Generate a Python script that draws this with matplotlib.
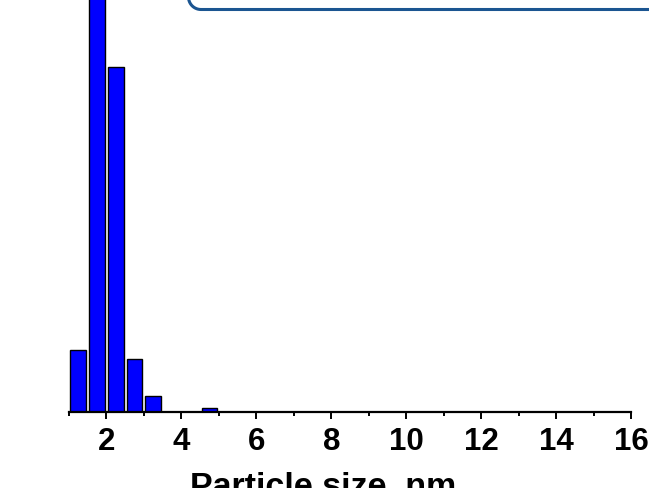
import matplotlib
matplotlib.use("Agg")
import matplotlib.pyplot as plt
from matplotlib.patches import PathPatch
from matplotlib.path import Path
from matplotlib.transforms import IdentityTransform
import numpy as np

# Data (percent of particles per 0.5 nm bin)
bin_centers = [1.25, 1.75, 2.25, 2.75, 3.25, 4.75]
bin_values = [6.6, 48.0, 37.0, 5.7, 1.7, 0.4]
x_ticks = [2, 4, 6, 8, 10, 12, 14, 16]
x_tick_labels = ["2", "4", "6", "8", "10", "12", "14", "16"]
x_label = "Particle size, nm"

plt.rcParams['font.family'] = ['Liberation Sans', 'DejaVu Sans']

W, H = 649, 488
fig = plt.figure(figsize=(W/100, H/100), dpi=100)
ax = fig.add_axes([69/W, (H-412)/H, (631-69)/W, 412/H])

ax.bar(bin_centers, bin_values, width=0.42, color='#0000FF',
       edgecolor='black', linewidth=1.0, zorder=2)

ax.set_xlim(1, 16)
ax.set_ylim(0, 44.2)

for s in ['top', 'right', 'left']:
    ax.spines[s].set_visible(False)
ax.spines['bottom'].set_linewidth(1.6)
ax.yaxis.set_visible(False)

ax.set_xticks(x_ticks)
ax.set_xticklabels(x_tick_labels, fontsize=22.5, fontweight='bold')
ax.set_xticks([1, 3, 5, 7, 9, 11, 13, 15], minor=True)
ax.tick_params(axis='x', which='major', direction='out', length=5, width=1.4, pad=6)
ax.tick_params(axis='x', which='minor', direction='out', length=3, width=1.4)
# last label sits slightly left of its tick, as in the reference
ax.get_xticklabels()[-1].set_ha('center')
ax.get_xticklabels()[-1].set_x(15.87)

ax.set_xlabel(x_label, fontsize=24.5, fontweight='bold')
ax.xaxis.set_label_coords((323-69)/(631-69), -0.145)
ax.xaxis.label.set_va('top')

# Rounded box partially visible at the top right (pixel coordinates, origin bottom-left)
x0, yb, r = 188.5, H - 9.5, 12.5
theta = np.linspace(np.pi, 1.5*np.pi, 20)
arc = [(x0 + r + r*np.cos(t), yb + r + r*np.sin(t)) for t in theta]
verts = [(x0, H + 40)] + arc + [(W + 40, yb)]
box = PathPatch(Path(verts), transform=IdentityTransform(), facecolor='none',
                edgecolor='#1b5591', linewidth=2.2, clip_on=False,
                capstyle='butt', joinstyle='round')
fig.patches.append(box)

fig.savefig("out.png", dpi=100)
